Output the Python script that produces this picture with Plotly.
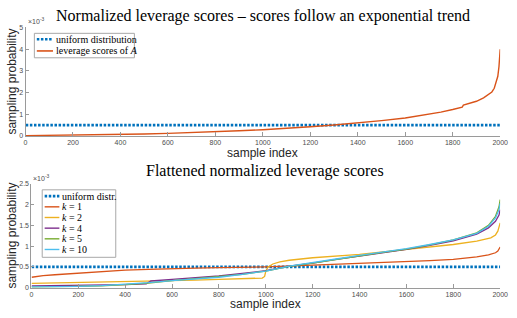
import plotly.graph_objects as go

W, H = 517, 318

# ---------------- data (values in units of 1e-3) ----------------
uniform_x = [1, 2000]
uniform_e3 = [0.5, 0.5]

lev_x = [1, 100, 200, 300, 400, 500, 600, 700, 800, 900, 1000, 1100, 1200, 1300,
         1400, 1500, 1600, 1700, 1750, 1800, 1840, 1845, 1880, 1900, 1930, 1950,
         1965, 1975, 1985, 1990, 1995, 1998, 2000]
lev_e3 = [0.02, 0.03, 0.04, 0.055, 0.07, 0.09, 0.12, 0.15, 0.19, 0.24, 0.29, 0.35,
          0.43, 0.51, 0.6, 0.71, 0.83, 0.99, 1.1, 1.22, 1.33, 1.42, 1.52, 1.6,
          1.76, 1.9, 2.03, 2.2, 2.5, 2.75, 3.2, 3.6, 4.0]

k1_x = [1, 50, 100, 200, 300, 400, 500, 600, 700, 800, 900, 1000, 1200, 1400,
        1600, 1700, 1800, 1900, 1950, 1980, 1990, 1996, 2000]
k1_e3 = [0.25, 0.29, 0.31, 0.35, 0.39, 0.42, 0.44, 0.46, 0.47, 0.48, 0.49, 0.5,
         0.54, 0.58, 0.62, 0.65, 0.68, 0.74, 0.79, 0.84, 0.88, 0.93, 0.98]

k2_x = [1, 100, 200, 300, 400, 500, 600, 700, 800, 900, 960, 985, 995, 1000, 1010,
        1030, 1060, 1100, 1200, 1300, 1400, 1500, 1600, 1700, 1800, 1900, 1960,
        1980, 1990, 2000]
k2_e3 = [0.1, 0.11, 0.12, 0.13, 0.14, 0.15, 0.17, 0.18, 0.2, 0.21, 0.22, 0.23,
         0.27, 0.4, 0.5, 0.57, 0.62, 0.66, 0.72, 0.76, 0.8, 0.86, 0.92, 0.98,
         1.04, 1.12, 1.2, 1.27, 1.36, 1.56]

k4_x = [1, 100, 200, 300, 400, 490, 500, 510, 600, 700, 800, 900, 1000, 1100, 1200,
        1300, 1400, 1500, 1600, 1700, 1800, 1900, 1950, 1980, 1995, 2000]
k4_e3 = [0.04, 0.045, 0.05, 0.06, 0.07, 0.09, 0.13, 0.16, 0.2, 0.24, 0.28, 0.34,
         0.41, 0.52, 0.59, 0.68, 0.76, 0.84, 0.92, 1.02, 1.13, 1.29, 1.44, 1.6,
         1.75, 1.88]

k5_x = [1, 100, 200, 250, 300, 400, 500, 600, 700, 800, 900, 1000, 1100, 1200,
        1300, 1400, 1500, 1600, 1700, 1800, 1900, 1950, 1980, 1995, 2000]
k5_e3 = [0.01, 0.015, 0.02, 0.025, 0.04, 0.07, 0.11, 0.17, 0.22, 0.26, 0.32, 0.4,
         0.51, 0.59, 0.68, 0.77, 0.85, 0.93, 1.03, 1.15, 1.32, 1.5, 1.72, 1.95, 2.12]

k10_x = [1, 100, 200, 300, 400, 500, 600, 700, 800, 900, 1000, 1100, 1200, 1300,
         1400, 1500, 1600, 1700, 1800, 1900, 1950, 1980, 1995, 2000]
k10_e3 = [0.015, 0.02, 0.03, 0.05, 0.08, 0.12, 0.17, 0.21, 0.25, 0.32, 0.4, 0.52,
          0.6, 0.69, 0.78, 0.86, 0.94, 1.04, 1.15, 1.31, 1.48, 1.68, 1.88, 2.03]

x_ticks = [0, 200, 400, 600, 800, 1000, 1200, 1400, 1600, 1800, 2000]
y_ticks_top = [0, 1, 2, 3, 4, 5]
y_ticks_bot = [0, 0.5, 1, 1.5, 2, 2.5]

top_title = "Normalized leverage scores – scores follow an exponential trend"
bot_title = "Flattened normalized leverage scores"
top_names = ["uniform distribution", "leverage scores of <i>A</i>"]
bot_names = ["uniform distr.", "<i>k</i> = 1", "<i>k</i> = 2", "<i>k</i> = 4",
             "<i>k</i> = 5", "<i>k</i> = 10"]

BLUE = "#0072BD"
colors_k = ["#D95319", "#EDB120", "#7E2F8E", "#77AC30", "#4DBEEE"]
DOT = "2.5px,1.6px"

# ---------------- helpers (pixel -> paper) ----------------
def px(x):
    return x / W

def py(y):
    return 1 - y / H

fig = go.Figure()

# top
fig.add_trace(go.Scatter(x=uniform_x, y=uniform_e3, mode="lines", xaxis="x", yaxis="y",
                         line=dict(color=BLUE, width=2.6, dash=DOT), showlegend=False))
fig.add_trace(go.Scatter(x=lev_x, y=lev_e3, mode="lines", xaxis="x", yaxis="y",
                         line=dict(color=colors_k[0], width=1.4), showlegend=False))
# bottom
fig.add_trace(go.Scatter(x=uniform_x, y=uniform_e3, mode="lines", xaxis="x2", yaxis="y2",
                         line=dict(color=BLUE, width=2.6, dash=DOT), showlegend=False))
for xs, ys, c in zip([k1_x, k2_x, k4_x, k5_x, k10_x],
                     [k1_e3, k2_e3, k4_e3, k5_e3, k10_e3], colors_k):
    fig.add_trace(go.Scatter(x=xs, y=ys, mode="lines", xaxis="x2", yaxis="y2",
                             line=dict(color=c, width=1.3), showlegend=False))

AX = "#9a9a9a"
tickfont = dict(family="Liberation Sans", size=7, color="#4d4d4d")
common_x = dict(range=[0, 2000], tickvals=x_ticks, ticks="inside", ticklen=4,
                tickcolor=AX, showline=True, linecolor=AX, linewidth=1,
                showgrid=False, zeroline=False, tickfont=tickfont)
common_y = dict(ticks="inside", ticklen=3, tickcolor=AX, showline=True,
                linecolor=AX, linewidth=1, showgrid=False, zeroline=False,
                tickfont=tickfont)

fig.update_layout(
    width=W, height=H, margin=dict(l=0, r=0, t=0, b=0),
    paper_bgcolor="white", plot_bgcolor="white", showlegend=False,
    xaxis=dict(domain=[px(24), px(508)], anchor="y", **common_x),
    yaxis=dict(domain=[py(135), py(24)], anchor="x", range=[0, 5],
               tickvals=y_ticks_top, **common_y),
    xaxis2=dict(domain=[px(30), px(508)], anchor="y2", **common_x),
    yaxis2=dict(domain=[py(290), py(184)], anchor="x2", range=[0, 2.5],
                tickvals=y_ticks_bot, ticktext=[f"{v:g}" for v in y_ticks_bot],
                **common_y),
)

ann = []
serif = "Liberation Serif"
sans = "Liberation Sans"
ann.append(dict(text=top_title, x=px(266), y=py(12), xref="paper", yref="paper",
                showarrow=False, xanchor="center", yanchor="middle",
                font=dict(family=serif, size=16, color="black")))
ann.append(dict(text=bot_title, x=px(268), y=py(171), xref="paper", yref="paper",
                showarrow=False, xanchor="center", yanchor="middle",
                font=dict(family=serif, size=16, color="black")))
for yc in [79.5, 237]:
    ann.append(dict(text="sampling probability", x=px(10), y=py(yc), xref="paper",
                    yref="paper", showarrow=False, textangle=-90, xanchor="center",
                    yanchor="middle", font=dict(family=sans, size=12, color="#262626")))
for xc, yc in [(266, 152), (269, 307)]:
    ann.append(dict(text="sample index", x=px(xc), y=py(yc), xref="paper", yref="paper",
                    showarrow=False, xanchor="center", yanchor="middle",
                    font=dict(family=sans, size=12, color="#262626")))
for xl, yb in [(24, 24), (30, 184)]:
    ann.append(dict(text="×10<sup>-3</sup>", x=px(xl), y=py(yb), xref="paper",
                    yref="paper", showarrow=False, xanchor="left", yanchor="bottom",
                    font=dict(family=sans, size=7, color="#4d4d4d")))

shapes = []

def legend(box, entries, sx0, sx1, tx, y0, dy):
    x0, y0b, x1, y1b = box
    shapes.append(dict(type="rect", xref="paper", yref="paper", x0=px(x0), x1=px(x1),
                       y0=py(y1b), y1=py(y0b), line=dict(color="#a8a8a8", width=1),
                       fillcolor="white", layer="above"))
    for i, (name, color, dash, wdt) in enumerate(entries):
        yc = y0 + i * dy
        shapes.append(dict(type="line", xref="paper", yref="paper", x0=px(sx0),
                           x1=px(sx1), y0=py(yc), y1=py(yc), layer="above",
                           line=dict(color=color, width=wdt, dash=dash)))
        ann.append(dict(text=name, x=px(tx), y=py(yc), xref="paper", yref="paper",
                        showarrow=False, xanchor="left", yanchor="middle",
                        font=dict(family=serif, size=10, color="black")))

legend((33, 30, 135, 55),
       [(top_names[0], BLUE, DOT, 2.6), (top_names[1], colors_k[0], "solid", 1.6)],
       35.5, 52, 53.5, 36, 12)
legend((41, 190, 116, 259),
       [(bot_names[0], BLUE, DOT, 2.6)] +
       [(n, c, "solid", 1.4) for n, c in zip(bot_names[1:], colors_k)],
       43.5, 58.5, 59.5, 196.5, 10.9)

fig.update_layout(annotations=ann, shapes=shapes)
fig.write_html("out.html",
               config={"displayModeBar": False, "staticPlot": True},
               post_script="document.body.style.margin='0';"
                           "document.body.style.overflow='hidden';")
